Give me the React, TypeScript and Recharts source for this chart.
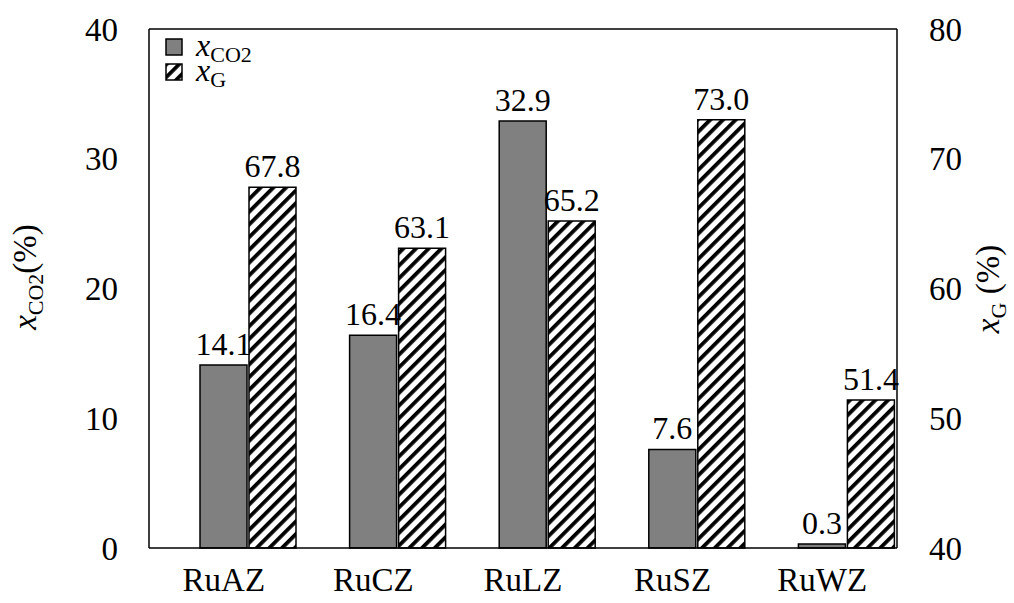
import React from 'react';
import { BarChart, Bar, XAxis, YAxis, LabelList, ReferenceLine } from 'recharts';

const catalysts = ['RuAZ', 'RuCZ', 'RuLZ', 'RuSZ', 'RuWZ'];
const xCO2 = [14.1, 16.4, 32.9, 7.6, 0.3];
const xG = [67.8, 63.1, 65.2, 73.0, 51.4];
const leftTicks = [0, 10, 20, 30, 40];
const rightTicks = [40, 50, 60, 70, 80];

const data = catalysts.map((name, i) => ({ name, co2: xCO2[i], g: xG[i] }));

const FONT = '"Liberation Serif", "Times New Roman", serif';

const HatchDef = ({ id }: { id: string }) => (
  <pattern id={id} patternUnits="userSpaceOnUse" width="9" height="9" patternTransform="rotate(45)">
    <rect x="0" y="0" width="9" height="9" fill="#fff" />
    <rect x="0" y="0" width="3.8" height="9" fill="#000" />
  </pattern>
);

const LegendBox = () => (
  <div
    style={{
      position: 'absolute',
      left: 165,
      top: 34,
      fontFamily: FONT,
      fontSize: 32,
      color: '#000',
      lineHeight: '25px',
    }}
  >
    <div style={{ display: 'flex', alignItems: 'center', height: 25 }}>
      <svg width={18} height={18} style={{ marginRight: 13 }}>
        <rect x={1} y={1} width={16} height={16} fill="#808080" stroke="#000" strokeWidth={1.5} />
      </svg>
      <span>
        <i>x</i>
        <span style={{ fontSize: 22, position: 'relative', top: 6 }}>CO2</span>
      </span>
    </div>
    <div style={{ display: 'flex', alignItems: 'center', height: 25 }}>
      <svg width={18} height={18} style={{ marginRight: 13 }}>
        <defs>
          <HatchDef id="hatchLegend" />
        </defs>
        <rect x={1} y={1} width={16} height={16} fill="url(#hatchLegend)" stroke="#000" strokeWidth={1.5} />
      </svg>
      <span>
        <i>x</i>
        <span style={{ fontSize: 22, position: 'relative', top: 6 }}>G</span>
      </span>
    </div>
  </div>
);

const LeftTitle = () => (
  <text transform="translate(36,277) rotate(-90)" textAnchor="middle" fontSize={33} fill="#000" fontFamily={FONT}>
    <tspan fontStyle="italic">x</tspan>
    <tspan fontSize={22} dy={7}>CO2</tspan>
    <tspan dy={-7}>(%)</tspan>
  </text>
);

const RightTitle = () => (
  <text transform="translate(999,289) rotate(-90)" textAnchor="middle" fontSize={33} fill="#000" fontFamily={FONT}>
    <tspan fontStyle="italic">x</tspan>
    <tspan fontSize={22} dy={7}>G</tspan>
    <tspan dy={-7}> (%)</tspan>
  </text>
);

const fmt = (v: any) => (typeof v === 'number' ? v.toFixed(1) : v);

export default function App() {
  return (
    <div style={{ position: 'absolute', left: 0, top: 0, fontFamily: FONT, background: '#fff' }}>
      <BarChart
        width={1014}
        height={603}
        data={data}
        margin={{ top: 29, right: 0, bottom: 0, left: 0 }}
        barSize={47}
        barGap={2}
      >
        <defs>
          <HatchDef id="hatchBar" />
        </defs>
        <XAxis
          dataKey="name"
          height={55}
          tickLine={false}
          tickSize={0}
          tickMargin={20}
          axisLine={{ stroke: '#000', strokeWidth: 1.5 }}
          tick={{ fill: '#000', fontSize: 33 }}
        />
        <YAxis
          yAxisId="left"
          width={149}
          domain={[0, 40]}
          ticks={leftTicks}
          tickLine={false}
          tickSize={0}
          tickMargin={31}
          axisLine={{ stroke: '#000', strokeWidth: 1.5 }}
          tick={{ fill: '#000', fontSize: 33 }}
          label={{ content: () => <LeftTitle /> }}
        />
        <YAxis
          yAxisId="right"
          orientation="right"
          width={117}
          domain={[40, 80]}
          ticks={rightTicks}
          tickLine={false}
          tickSize={0}
          tickMargin={32}
          axisLine={{ stroke: '#000', strokeWidth: 1.5 }}
          tick={{ fill: '#000', fontSize: 33, textAnchor: 'start' }}
          label={{ content: () => <RightTitle /> }}
        />
        <ReferenceLine yAxisId="left" y={40} stroke="#000" strokeWidth={1.5} />
        <Bar yAxisId="left" dataKey="spacer" fill="none" legendType="none" isAnimationActive={false} />
        <Bar yAxisId="left" dataKey="co2" fill="#808080" stroke="#000" strokeWidth={1.5} isAnimationActive={false}>
          <LabelList dataKey="co2" position="top" offset={10} fontSize={32} fill="#000" formatter={fmt} />
        </Bar>
        <Bar yAxisId="right" dataKey="g" fill="url(#hatchBar)" stroke="#000" strokeWidth={1.5} isAnimationActive={false}>
          <LabelList dataKey="g" position="top" offset={10} fontSize={32} fill="#000" formatter={fmt} />
        </Bar>
      </BarChart>
      <LegendBox />
    </div>
  );
}
